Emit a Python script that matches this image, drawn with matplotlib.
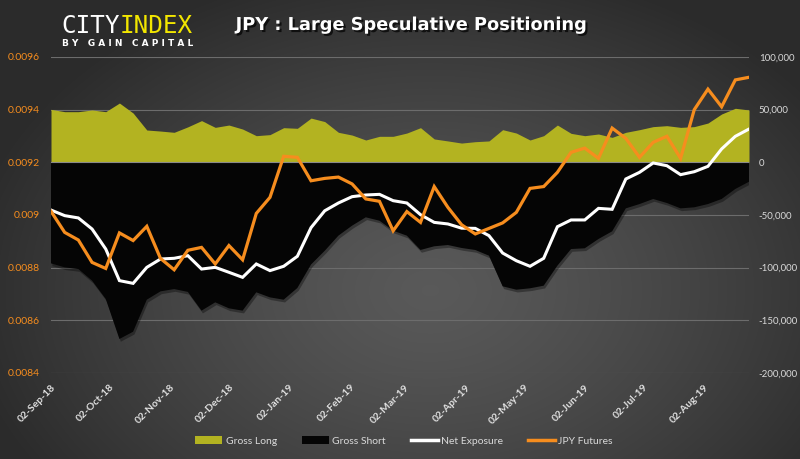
import numpy as np
import pandas as pd
import matplotlib
matplotlib.use("Agg")
import matplotlib.pyplot as plt
import matplotlib.dates as mdates
import matplotlib.ticker as mticker
import matplotlib.patheffects as pe
from matplotlib.patches import Patch
from matplotlib.lines import Line2D

plt.rcParams["font.family"] = ["Lato", "DejaVu Sans"]

# weekly COT data, Sep 2018 - Aug 2019
dates = pd.date_range("2018-09-02", periods=52, freq="7D")

# contracts, thousands
gross_long = [50.3, 48.1, 48.1, 49.7, 48.1, 56.3, 46.8, 30.7, 29.7, 28.5,
              33.7, 39.6, 33.2, 35.4, 31.6, 25.3, 26.3, 32.9, 32.3, 42.0,
              38.7, 28.5, 25.9, 21.2, 24.7, 24.7, 27.8, 32.9, 22.2, 20.3,
              18.3, 19.6, 20.3, 31.0, 27.8, 21.2, 25.3, 35.4, 27.5, 25.3,
              26.9, 23.7, 28.5, 31.0, 33.9, 34.8, 33.2, 33.9, 37.3, 45.9,
              51.3, 49.7]
gross_short = [-95.9, -99.7, -101.3, -112.3, -129.7, -167.7, -160.8, -130.4, -122.5, -120.3,
               -123.0, -140.8, -132.9, -138.6, -140.8, -123.4, -128.2, -130.4, -119.3, -97.0,
               -84.0, -69.6, -60.1, -52.2, -55.4, -64.9, -69.6, -83.2, -79.7, -78.5,
               -81.3, -83.2, -88.6, -117.7, -120.9, -119.6, -117.1, -98.1, -82.3, -81.6,
               -72.8, -65.5, -43.7, -39.6, -34.8, -38.6, -43.7, -42.7, -39.6, -34.8,
               -25.3, -18.4]
net_exposure = [-45.3, -50.6, -52.8, -63.3, -82.3, -112.3, -114.9, -99.7, -91.8, -91.1,
                -88.6, -101.3, -99.7, -104.4, -109.2, -96.5, -102.8, -98.7, -89.2, -62.0,
                -46.0, -38.6, -32.6, -31.0, -30.4, -36.4, -38.6, -49.7, -57.0, -58.5,
                -62.5, -62.7, -69.6, -86.1, -93.4, -98.7, -91.1, -61.1, -54.7, -54.7,
                -43.7, -44.6, -15.8, -9.5, -0.6, -3.2, -11.7, -8.9, -3.8, 12.7,
                24.7, 31.6]
jpy_futures = [0.009014, 0.008934, 0.008905, 0.008820, 0.008797, 0.008932, 0.008903, 0.008957, 0.008835, 0.008792,
               0.008866, 0.008877, 0.008814, 0.008884, 0.008830, 0.009006, 0.009067, 0.009223, 0.009219, 0.009130,
               0.009139, 0.009144, 0.009118, 0.009061, 0.009052, 0.008940, 0.009013, 0.008972, 0.009108, 0.009029,
               0.008963, 0.008928, 0.008949, 0.008970, 0.009010, 0.009101, 0.009108, 0.009162, 0.009238, 0.009254,
               0.009215, 0.009330, 0.009291, 0.009219, 0.009276, 0.009299, 0.009215, 0.009400, 0.009478, 0.009411,
               0.009513, 0.009523]

left_ticks = [0.0084, 0.0086, 0.0088, 0.009, 0.0092, 0.0094, 0.0096]
right_ticks = [-200000, -150000, -100000, -50000, 0, 50000, 100000]
month_ticks = [pd.Timestamp("2018-09-02") + pd.DateOffset(months=k) for k in range(12)]

gl = np.array(gross_long) * 1000
gs = np.array(gross_short) * 1000
ne = np.array(net_exposure) * 1000

OLIVE = "#b3b321"
ORANGE = "#f68d1e"
TXT = "#d9d9d9"

W, H = 800, 459
fig = plt.figure(figsize=(W / 100, H / 100), dpi=100)

# dark radial background
bg = fig.add_axes([0, 0, 1, 1], zorder=-10)
yy, xx = np.mgrid[0:H, 0:W]
r = np.sqrt(((xx - 430) / 470.0) ** 2 + ((yy - 290) / 330.0) ** 2)
r = np.clip(r, 0, 1)
shade = 0.35 - 0.18 * r ** 1.3
bg.imshow(np.dstack([shade] * 3), extent=[0, W, H, 0], aspect="auto")
bg.set_xlim(0, W)
bg.set_ylim(H, 0)
bg.axis("off")

ax = fig.add_axes([51 / W, 1 - 373 / H, 698 / W, 316 / H])
ax.patch.set_alpha(0)
ax.fill_between(dates, 0, gl, color=OLIVE, lw=0, zorder=2)
ax.fill_between(dates, gs, 0, color="#050505", lw=0, zorder=2,
                path_effects=[pe.SimplePatchShadow(offset=(1, -2), shadow_rgbFace="black", alpha=0.35), pe.Normal()])
ax.axhline(0, color="#8a8a8a", lw=0.8, zorder=3)
ax.plot(dates, ne, color="white", lw=2.2, zorder=4, solid_joinstyle="miter")
ax.set_ylim(-200000, 100000)
ax.set_yticks(right_ticks)
ax.yaxis.set_major_formatter(mticker.FuncFormatter(lambda v, p: f"{v:,.0f}"))
ax.grid(axis="y", color="#6c6c6c", lw=0.8)
ax.set_axisbelow(True)
for s in ax.spines.values():
    s.set_visible(False)

ax2 = ax.twinx()
ax2.plot(dates, jpy_futures, color=ORANGE, lw=2.3, zorder=5, solid_joinstyle="miter")
ax2.set_ylim(0.0084, 0.0096)
ax2.set_yticks(left_ticks)
ax2.yaxis.set_major_formatter(mticker.FuncFormatter(lambda v, p: f"{v:g}"))
for s in ax2.spines.values():
    s.set_visible(False)

ax.yaxis.tick_right()
ax2.yaxis.tick_left()
ax.tick_params(axis="y", colors=TXT, labelsize=7, length=0, pad=7)
ax2.tick_params(axis="y", labelcolor=ORANGE, labelsize=7.5, length=0, pad=8)

ax.set_xlim(dates[0], dates[-1])
ax.set_xticks(month_ticks)
ax.xaxis.set_major_formatter(mdates.DateFormatter("%d-%b-%y"))
ax.tick_params(axis="x", length=0, pad=7, labelsize=7.5, labelcolor="#e0e0e0")
for lab in ax.get_xticklabels():
    lab.set_rotation(45)
    lab.set_ha("right")
    lab.set_rotation_mode("anchor")
    lab.set_fontweight("bold")

# title and logo
fig.text(411 / W, 1 - 25 / H, "JPY : Large Speculative Positioning", color="white",
         fontsize=12.8, fontweight="bold", family="DejaVu Sans", ha="center", va="center",
         path_effects=[pe.SimplePatchShadow(offset=(1.5, -1.5), shadow_rgbFace="black", alpha=0.7), pe.Normal()])
t1 = fig.text(61 / W, 1 - 33 / H, "CITY", color="white", fontsize=17.5,
              family="DejaVu Sans Mono", va="baseline", ha="left")
ax.annotate("INDEX", xy=(1, 0), xycoords=t1, color="#f2e600", fontsize=17.5,
            family="DejaVu Sans Mono", va="bottom", ha="left", annotation_clip=False)
fig.text(128 / W, 1 - 43 / H, "B Y   G A I N   C A P I T A L", color="white", fontsize=6.5,
         fontweight="bold", family="DejaVu Sans", ha="center", va="center")

handles = [Patch(facecolor=OLIVE, edgecolor="none", label="Gross Long"),
           Patch(facecolor="#050505", edgecolor="none", label="Gross Short"),
           Line2D([], [], color="white", lw=2.5, label="Net Exposure"),
           Line2D([], [], color=ORANGE, lw=2.5, label="JPY Futures")]
leg = fig.legend(handles=handles, loc="center", bbox_to_anchor=(404 / W, 1 - 441 / H), ncol=4,
                 frameon=False, fontsize=7.5, labelcolor=TXT, handlelength=2.6,
                 handleheight=0.7, handletextpad=0.3, columnspacing=2.4)

fig.savefig("out.png", dpi=100)
